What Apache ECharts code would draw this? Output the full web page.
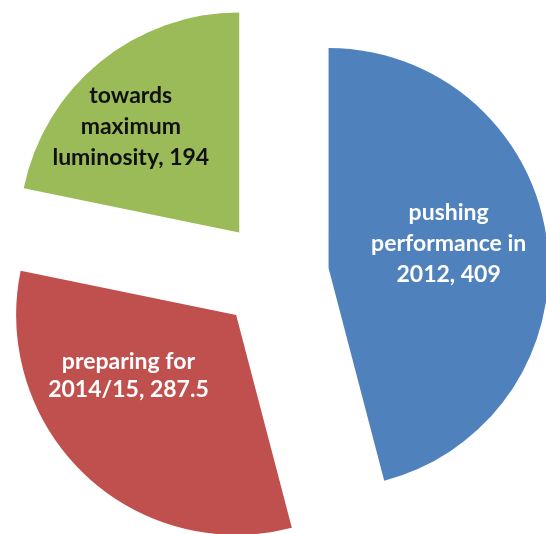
<!DOCTYPE html>
<html>
<head>
<meta charset="utf-8">
<style>
  html, body { margin: 0; padding: 0; background: #ffffff; }
  #chart { width: 546px; height: 534px; }
</style>
<script src="https://cdn.jsdelivr.net/npm/echarts@6/dist/echarts.min.js"></script>
</head>
<body>
<div id="chart"></div>
<script>
const categories = ['pushing\nperformance in\n2012', 'preparing for\n2014/15', 'towards\nmaximum\nluminosity'];
const values = [409, 287.5, 194];
const colors = ['#4F81BD', '#C0504D', '#9BBB59'];
const labelColors = ['#ffffff', '#ffffff', '#111111'];
const labelShift = [[8, -10], [-30, -21], [-37, -18]];

const chart = echarts.init(document.getElementById('chart'), null, { renderer: 'canvas' });

const data = categories.map((c, i) => ({
  name: c,
  value: values[i],
  selected: true,
  itemStyle: { color: colors[i] },
  label: { color: labelColors[i], lineHeight: i === 1 ? 28 : 31 },
  select: { itemStyle: { color: colors[i], borderWidth: 0 }, label: { color: labelColors[i] } }
}));

chart.setOption({
  animation: false,
  backgroundColor: '#ffffff',
  series: [{
    type: 'pie',
    center: [274, 275],
    radius: [0, 220],
    startAngle: 90,
    clockwise: true,
    selectedMode: 'multiple',
    selectedOffset: 55,
    emphasis: { disabled: true },
    itemStyle: { borderWidth: 0 },
    label: {
      show: true,
      position: 'inside',
      fontFamily: 'Lato',
      fontWeight: 'bold',
      fontSize: 23,
      lineHeight: 31,
      align: 'center',
      formatter: p => p.name + ', ' + p.value
    },
    labelLine: { show: false },
    labelLayout: function (params) {
      const s = labelShift[params.dataIndex];
      return { dx: s[0], dy: s[1] };
    },
    data: data
  }]
});
</script>
</body>
</html>
